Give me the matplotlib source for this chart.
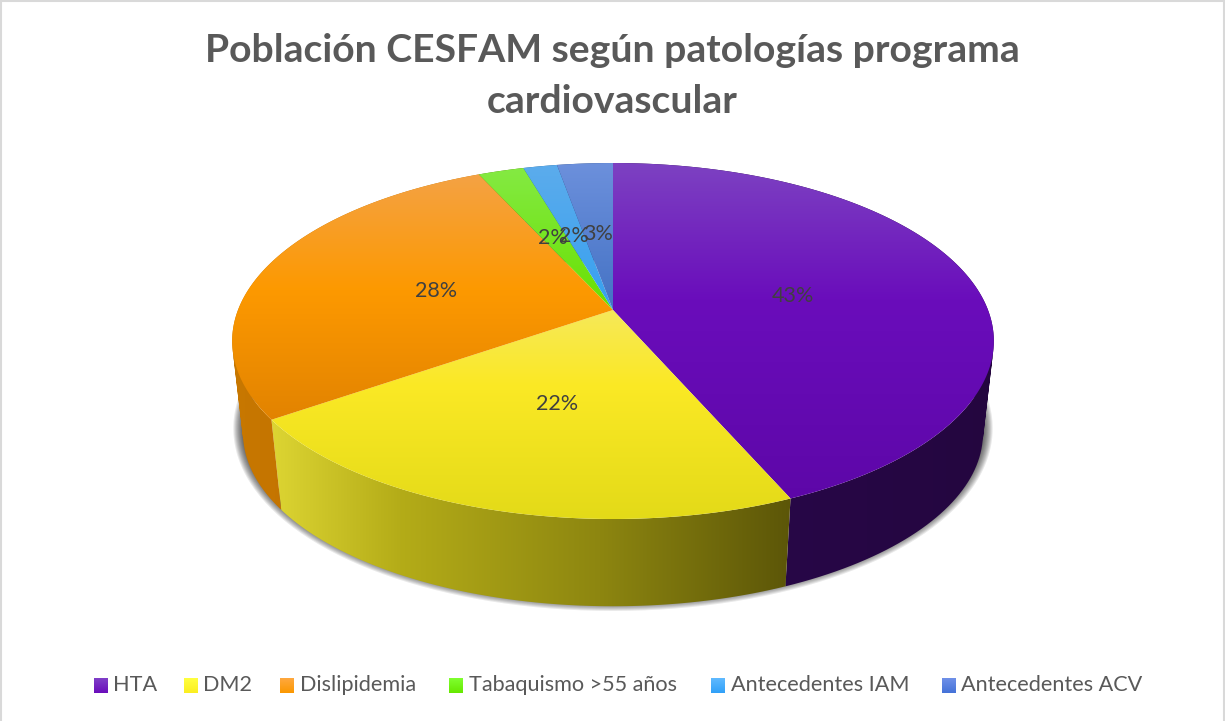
import numpy as np
from matplotlib import pyplot as plt
from matplotlib.colors import to_rgb
from matplotlib.patches import PathPatch, Rectangle
from matplotlib.path import Path

W, H = 1225, 721
FONT = "Lato"
TEXT_GREY = "#595959"
LABEL_GREY = "#404040"

# chart data (percent of population)
categories = ["HTA", "DM2", "Dislipidemia", "Tabaquismo >55 años",
              "Antecedentes IAM", "Antecedentes ACV"]
values = [43.49, 21.81, 27.9, 2.3, 1.7, 2.8]

title = "Población CESFAM según patologías programa\ncardiovascular"

# top face gradient, (pixel y, colour)
top_grad = [
    [(163, "#7d42c2"), (300, "#6a0dbb"), (520, "#5c06a6")],
    [(310, "#f6e85a"), (385, "#fbe925"), (520, "#e3da18")],
    [(175, "#f4a244"), (290, "#fd9900"), (420, "#e28300")],
    [(165, "#85ea44"), (310, "#68e000"), (320, "#68e000")],
    [(165, "#5cacec"), (310, "#36a0f0"), (320, "#36a0f0")],
    [(163, "#6c90dc"), (310, "#4472c4"), (320, "#4472c4")],
]
# side wall gradient, (pixel x, colour)
side_grad = [
    [(600, "#2a084e"), (1000, "#24063f")],
    [(275, "#dcd432"), (400, "#b4ac18"), (600, "#8d8610"), (790, "#5c5608")],
    [(230, "#c87800"), (290, "#c47400")],
    [(500, "#4c8000"), (540, "#4c8000")],
    [(520, "#20608c"), (560, "#20608c")],
    [(550, "#2c4a80"), (615, "#2c4a80")],
]
legend_top = ["#8040c8", "#ffff40", "#ffa840", "#80ff30", "#60baff", "#7090e8"]
legend_bot = ["#6a0dbb", "#fbee20", "#fb9800", "#66e800", "#30a0f8", "#4472d8"]
legend_swatch_x = [94, 184, 280, 449, 711, 942]
legend_text_x = [113, 203, 300, 469, 731, 961]

# projection of the pie disc, fitted on the picture
CX, CY = 613, 310
A, B, K = 375, 172.6, 0.1742
VP_Y, DEPTH = 3580, 0.9715


def project(ang, r=1.0):
    # ang in degrees clockwise from the top of the pie
    a = np.radians(ang)
    u, v = r * np.sin(a), r * np.cos(a)
    w = 1 + K * v
    return CX + A * u / w, CY - B * v / w


def lower(x, y):
    return CX + DEPTH * (x - CX), VP_Y + DEPTH * (y - VP_Y)


def gradient(stops, lo, hi, n=400):
    pos = np.linspace(lo, hi, n)
    px = [s[0] for s in stops]
    cols = np.array([to_rgb(s[1]) for s in stops])
    return np.stack([np.interp(pos, px, cols[:, i]) for i in range(3)], axis=1)


def fill_grad(ax, path, stops, vertical=True, z=2):
    patch = PathPatch(path, transform=ax.transData, fc="none", ec="none")
    ax.add_patch(patch)
    xy = path.vertices
    x0, x1 = xy[:, 0].min() - 1, xy[:, 0].max() + 1
    y0, y1 = xy[:, 1].min() - 1, xy[:, 1].max() + 1
    if vertical:
        img = gradient(stops, y0, y1)[:, None, :]
    else:
        img = gradient(stops, x0, x1)[None, :, :]
    im = ax.imshow(img, extent=(x0, x1, y1, y0), aspect="auto", zorder=z, interpolation="bilinear")
    im.set_clip_path(patch)


def side_path(tx, ty, bx, by):
    # one small quad per step, all wound the same way so the union fills
    quads = []
    for j in range(len(tx) - 1):
        q = np.array([[tx[j], ty[j]], [tx[j + 1], ty[j + 1]], [bx[j + 1], by[j + 1]], [bx[j], by[j]]])
        x, y = q[:, 0], q[:, 1]
        area = np.sum(x * np.roll(y, -1) - np.roll(x, -1) * y)
        quads.append(q if area > 0 else q[::-1])
    verts = np.vstack([np.vstack([q, q[0]]) for q in quads])
    codes = np.tile([Path.MOVETO, Path.LINETO, Path.LINETO, Path.LINETO, Path.CLOSEPOLY], len(quads))
    return Path(verts, codes)


fig = plt.figure(figsize=(W / 100, H / 100), dpi=100, facecolor="white")
ax = fig.add_axes([0, 0, 1, 1])
ax.axis("off")

ax.add_patch(Rectangle((1, 1), W - 2, H + 5, fc="white", ec="#d9d9d9", lw=1.5, zorder=0))

ax.text(612, 76, title, ha="center", va="center", fontsize=28.2, fontweight="bold",
        family=FONT, color=TEXT_GREY, linespacing=1.56)

# soft shadow under the pie
full = np.linspace(0, 360, 361)
sx, sy = lower(*project(full))
for lw in np.arange(14, 0.5, -1.5):
    ax.plot(sx, sy - 5, color="black", lw=lw, alpha=0.085, zorder=1, solid_capstyle="round")

edges = np.concatenate([[0], np.cumsum(values)]) / np.sum(values) * 360

# side walls first, the top faces cover what is hidden
for i in range(len(values)):
    ang = np.linspace(edges[i], edges[i + 1], 120)
    tx, ty = project(ang)
    bx, by = lower(tx, ty)
    fill_grad(ax, side_path(tx, ty, bx, by), side_grad[i], vertical=False, z=2)

for i in range(len(values)):
    ang = np.linspace(edges[i], edges[i + 1], 160)
    tx, ty = project(ang)
    xy = np.column_stack([np.r_[CX, tx, CX], np.r_[CY, ty, CY]])
    fill_grad(ax, Path(xy, closed=True), top_grad[i], vertical=True, z=3)

# percent labels sit half way along the radius
for i, v in enumerate(values):
    mid = (edges[i] + edges[i + 1]) / 2
    lx, ly = project(mid, 0.5)
    ax.text(lx, ly + 3, f"{v / np.sum(values) * 100:.0f}%", ha="center", va="center",
            fontsize=15.5, family=FONT, color=LABEL_GREY, zorder=5)

# legend
for i, name in enumerate(categories):
    x0 = legend_swatch_x[i]
    stops = [(678, legend_top[i]), (693, legend_bot[i])]
    xy = np.array([[x0, 678], [x0 + 14, 678], [x0 + 14, 693], [x0, 693], [x0, 678]], dtype=float)
    fill_grad(ax, Path(xy, closed=True), stops, vertical=True, z=3)
    ax.text(legend_text_x[i], 685, name, ha="left", va="center", fontsize=15.6,
            family=FONT, color=TEXT_GREY)

ax.set_xlim(0, W)
ax.set_ylim(H, 0)
fig.savefig("out.png", dpi=100)
